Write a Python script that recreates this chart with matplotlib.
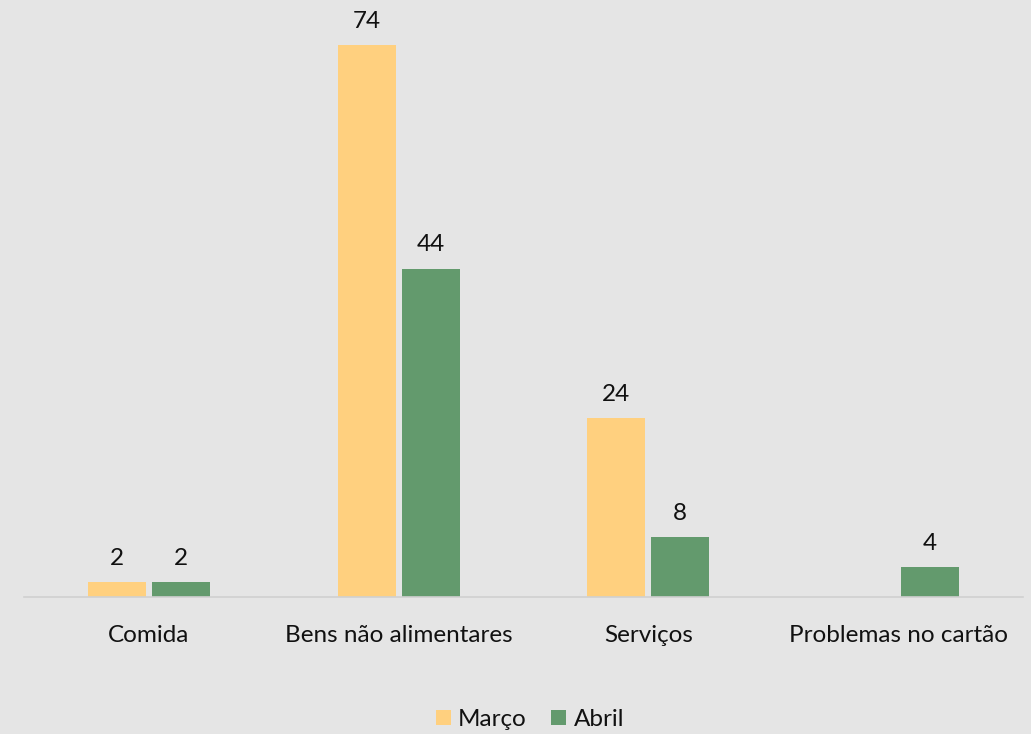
import matplotlib
matplotlib.use("Agg")
import matplotlib.pyplot as plt
import numpy as np

categories = ["Comida", "Bens não alimentares", "Serviços", "Problemas no cartão"]
series_names = ["Março", "Abril"]
marco = [2, 74, 24, 0]
abril = [2, 44, 8, 4]
colors = ["#FFD07F", "#639A6D"]

plt.rcParams["font.family"] = ["Lato", "DejaVu Sans"]

fig = plt.figure(figsize=(10.31, 7.34), dpi=100)
bg = "#E5E5E5"
fig.patch.set_facecolor(bg)
ax = fig.add_axes([24 / 1031, 137 / 734, 999 / 1031, 597 / 734])
ax.set_facecolor(bg)

fs = 17.5
x = np.arange(len(categories))
width = 0.232
offset = 0.128
for vals, name, col, sgn in zip([marco, abril], series_names, colors, [-1, 1]):
    bars = ax.bar(x + sgn * offset, vals, width, color=col, label=name)
    for b, v in zip(bars, vals):
        if v == 0:
            continue
        ax.annotate(str(v), (b.get_x() + b.get_width() / 2, v),
                    xytext=(0, 9.5), textcoords="offset points",
                    ha="center", va="bottom", fontsize=fs, color="#111111",
                    annotation_clip=False)

ax.set_xlim(-0.5, len(categories) - 0.5)
ax.set_ylim(0, 80)
ax.set_yticks([])
ax.set_xticks(x)
ax.set_xticklabels(categories, fontsize=fs, color="#111111")
ax.tick_params(axis="x", length=0, pad=20)
for s in ["top", "right", "left"]:
    ax.spines[s].set_visible(False)
ax.spines["bottom"].set_color("#D0D0D0")
ax.spines["bottom"].set_linewidth(1.2)

leg = fig.legend(loc="center", bbox_to_anchor=(530 / 1031, 1 - 719.5 / 734), ncol=2,
                 frameon=False, fontsize=fs, handlelength=0.62, handleheight=0.62,
                 handletextpad=0.3, columnspacing=1.0)
for t in leg.get_texts():
    t.set_color("#111111")

fig.savefig("out.png", dpi=100, facecolor=bg)
